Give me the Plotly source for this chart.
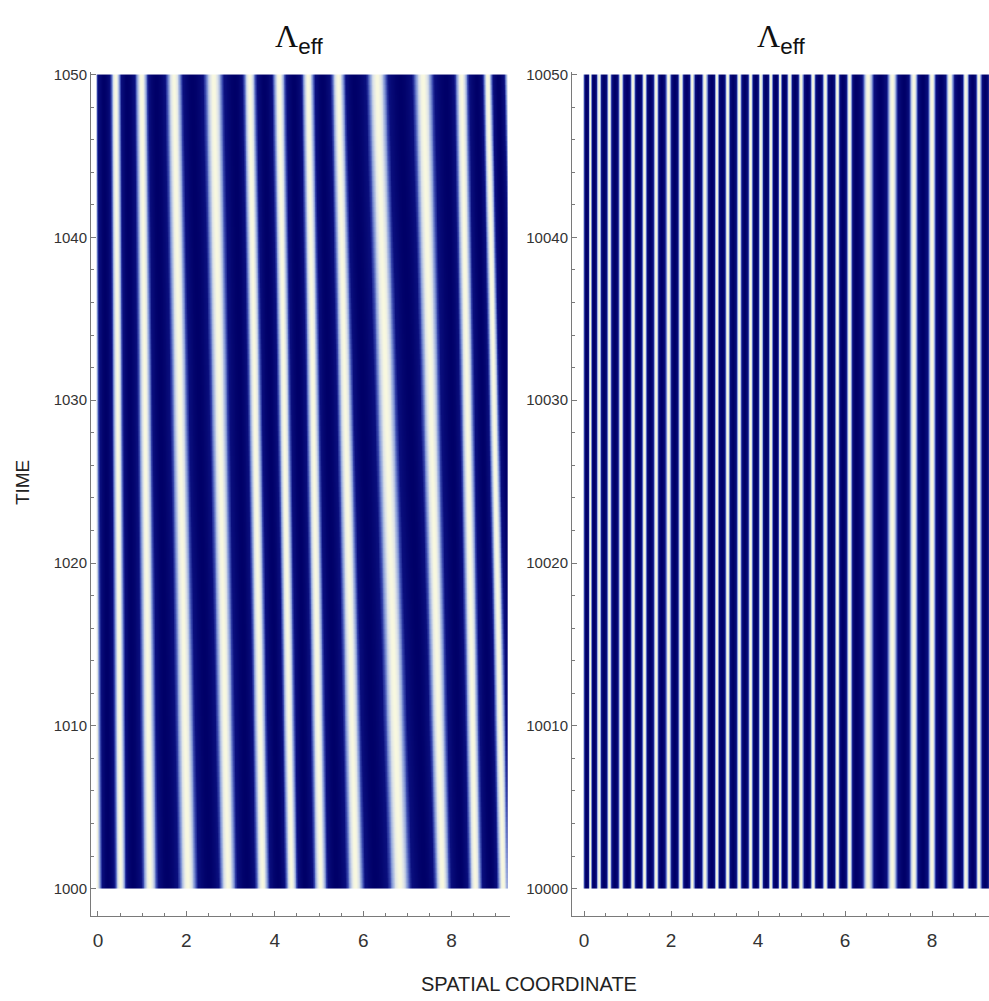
import numpy as np
import plotly.graph_objects as go

# ---------------- data ----------------
# Left panel: x-positions (spatial coordinate) of the dark-stripe centres
# at the first and last time of the window (stripes are straight lines).
left_times = [1000, 1050]
left_dark_t1000 = [-0.30, 0.23, 0.79, 1.56, 2.51, 3.37, 4.07, 4.68, 5.38, 6.27,
                   7.38, 8.19, 8.87, 9.45, 9.95]
left_dark_t1050 = [-0.40, 0.14, 0.66, 1.31, 2.13, 3.10, 3.76, 4.43, 5.07, 5.79,
                   6.83, 7.87, 8.57, 9.05, 9.55]
left_x_extent = [-0.03, 9.26]

# Right panel: stationary dark-stripe centres
right_times = [10000, 10050]
right_dark = [-0.12, 0.06, 0.23, 0.46, 0.71, 0.99, 1.26, 1.52, 1.79, 2.09, 2.36,
              2.62, 2.94, 3.17, 3.43, 3.70, 3.95, 4.18, 4.41, 4.60, 4.85, 5.13,
              5.40, 5.69, 5.95, 6.25, 6.81, 7.36, 7.79, 8.20, 8.62, 8.93, 9.22, 9.50]
right_x_extent = [-0.02, 9.40]

x_ticks = [0, 2, 4, 6, 8]
left_y_ticks = [1000, 1010, 1020, 1030, 1040, 1050]
right_y_ticks = [10000, 10010, 10020, 10030, 10040, 10050]


def stripe_field(x, centres):
    idx = np.interp(x, centres, np.arange(len(centres)))
    return 0.5 * (1 + np.cos(2 * np.pi * idx))


# ---------------- build heatmap grids ----------------
nx = 930
lx_edges = np.linspace(left_x_extent[0], left_x_extent[1], nx + 1)
lx_mid = 0.5 * (lx_edges[:-1] + lx_edges[1:])
nt = 160
lt_edges = np.linspace(left_times[0], left_times[1], nt + 1)
lt_mid = 0.5 * (lt_edges[:-1] + lt_edges[1:])
a = np.array(left_dark_t1000)
b = np.array(left_dark_t1050)
z_left = []
for t in lt_mid:
    f = (t - left_times[0]) / (left_times[1] - left_times[0])
    z_left.append(stripe_field(lx_mid, a + (b - a) * f))
z_left = np.array(z_left)

rx_edges = np.linspace(right_x_extent[0], right_x_extent[1], 1200 + 1)
rx_mid = 0.5 * (rx_edges[:-1] + rx_edges[1:])
z_right = np.array([stripe_field(rx_mid, np.array(right_dark))])

colorscale = [
    [0.0, "rgb(248,248,224)"],
    [0.07, "rgb(220,226,232)"],
    [0.20, "rgb(140,160,218)"],
    [0.34, "rgb(55,70,172)"],
    [0.50, "rgb(10,15,126)"],
    [1.0, "rgb(0,0,104)"],
]

fig = go.Figure()
fig.add_trace(go.Heatmap(x=lx_edges, y=lt_edges, z=z_left, colorscale=colorscale,
                         zmin=0, zmax=1, showscale=False, xaxis="x", yaxis="y",
                         hoverinfo="skip"))
fig.add_trace(go.Heatmap(x=rx_edges, y=right_times, z=z_right, colorscale=colorscale,
                         zmin=0, zmax=1, showscale=False, xaxis="x2", yaxis="y2",
                         hoverinfo="skip"))

W, H = 989, 1001
ydom = [(H - 915) / H, (H - 66) / H]
tickfont_x = dict(family="Liberation Sans, Arial", size=19, color="#333")
tickfont_y = dict(family="Liberation Sans, Arial", size=15, color="#333")
axcommon = dict(showline=True, linecolor="#7a7a7a", linewidth=1, ticks="inside",
                tickcolor="#7a7a7a", showgrid=False, zeroline=False)

fig.update_layout(
    width=W, height=H, margin=dict(l=0, r=0, t=0, b=0),
    paper_bgcolor="white", plot_bgcolor="white", showlegend=False,
    xaxis=dict(domain=[91 / W, 510 / W], range=[-0.158, 9.32], anchor="y",
               tickvals=x_ticks, ticklen=5, tickfont=tickfont_x, ticklabelstandoff=8,
               minor=dict(ticks="inside", ticklen=3, tick0=0, dtick=0.5,
                          tickcolor="#7a7a7a", showgrid=False), **axcommon),
    yaxis=dict(domain=ydom, range=[998.35, 1050.18], anchor="x",
               tickvals=left_y_ticks, ticktext=[str(v) for v in left_y_ticks],
               ticklen=5, tickfont=tickfont_y,
               minor=dict(ticks="inside", ticklen=3, tick0=1000, dtick=2,
                          tickcolor="#7a7a7a", showgrid=False), **axcommon),
    xaxis2=dict(domain=[572 / W, 1.0], range=[-0.276, 9.31], anchor="y2",
                tickvals=x_ticks, ticklen=5, tickfont=tickfont_x, ticklabelstandoff=8,
                minor=dict(ticks="inside", ticklen=3, tick0=0, dtick=0.5,
                           tickcolor="#7a7a7a", showgrid=False), **axcommon),
    yaxis2=dict(domain=ydom, range=[9998.35, 10050.18], anchor="x2",
                tickvals=right_y_ticks, ticktext=[str(v) for v in right_y_ticks],
                ticklen=5, tickfont=tickfont_y,
                minor=dict(ticks="inside", ticklen=3, tick0=10000, dtick=2,
                           tickcolor="#7a7a7a", showgrid=False), **axcommon),
)

title_text = '<span style="font-family:Liberation Serif">Λ</span><sub>eff</sub>'
for xc in [299 / W, 781 / W]:
    fig.add_annotation(x=xc, y=(H - 33) / H, xref="paper", yref="paper",
                       text=title_text, showarrow=False, xanchor="center", yanchor="middle",
                       font=dict(family="Liberation Sans, Arial", size=32, color="#111"))

fig.add_annotation(x=22 / W, y=(H - 480) / H, xref="paper", yref="paper", text="TIME",
                   textangle=-90, showarrow=False, xanchor="center", yanchor="middle",
                   font=dict(family="Liberation Sans, Arial", size=19, color="#222"))
fig.add_annotation(x=529 / W, y=(H - 984) / H, xref="paper", yref="paper",
                   text="SPATIAL COORDINATE", showarrow=False, xanchor="center",
                   yanchor="middle",
                   font=dict(family="Liberation Sans, Arial", size=20, color="#222"))

fig.write_html("out.html")
